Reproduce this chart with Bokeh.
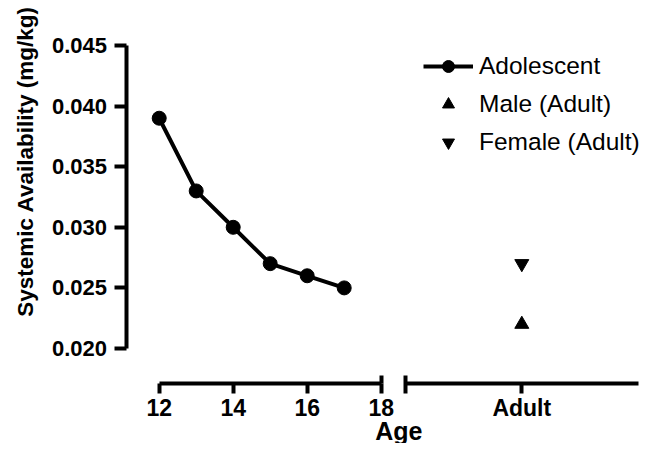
import math
from bokeh.plotting import figure
from bokeh.models import (Range1d, LinearAxis, FixedTicker, NumeralTickFormatter,
                          Label, Legend)
from bokeh.embed import file_html
from bokeh.resources import INLINE

# ---- data -------------------------------------------------------------
ages = [12, 13, 14, 15, 16, 17]
adolescent = [0.039, 0.033, 0.030, 0.027, 0.026, 0.025]
male_adult = [0.022]
female_adult = [0.027]
age_ticks = [12, 14, 16, 18]
adult_label = "Adult"
y_ticks = [0.020, 0.025, 0.030, 0.035, 0.040, 0.045]
series_names = ["Adolescent", "Male (Adult)", "Female (Adult)"]
x_title = "Age"
y_title = "Systemic Availability (mg/kg)"

# ---- layout constants ---------------------------------------------------
W, H = 641, 443
ADULT_POS = 21.8          # where the "Adult" group sits on the broken axis
SEG1 = (12, 18)           # first axis segment
SEG2 = (18.65, 24.95)     # second axis segment
Y_BOUNDS = (0.020, 0.045)
FONT = "Liberation Sans"

# pixel <-> data mapping of the plotting area (whole canvas is the frame)
PX_PER_X = 37.0
X12_PX = 158.7
PX_PER_Y = 303 / 0.025
Y045_PX = 45.0


def dx(px):
    return 12 + (px - X12_PX) / PX_PER_X


def dy(py):
    return 0.045 + (Y045_PX - py) / PX_PER_Y


X_AXIS_AT = dy(383)       # data y where the (offset) x axis is drawn
Y_AXIS_AT = dx(125.5)     # data x where the y axis is drawn

p = figure(width=W, height=H,
           x_range=Range1d(dx(0), dx(W)), y_range=Range1d(dy(H), dy(0)),
           output_backend="svg", toolbar_location=None,
           min_border_left=0, min_border_top=0,
           min_border_right=0, min_border_bottom=0)
p.grid.visible = False
p.outline_line_color = None
p.background_fill_color = "white"
p.border_fill_color = "white"

# ---- primary x axis: ticks + labels (no rule) ----------------------------
xa = p.xaxis[0]
xa.fixed_location = X_AXIS_AT
xa.bounds = (SEG1[0], SEG2[1])
xa.ticker = FixedTicker(ticks=age_ticks + [ADULT_POS])
xa.major_label_overrides = {ADULT_POS: adult_label}
xa.axis_line_color = None
xa.major_tick_in = 0
xa.major_tick_out = 10
xa.major_tick_line_width = 4
xa.major_tick_line_color = "black"
xa.minor_tick_line_color = None
xa.major_label_standoff = 1
xa.major_label_text_font = FONT
xa.major_label_text_font_style = "bold"
xa.major_label_text_font_size = "23px"
xa.major_label_text_color = "black"

# ---- axis segments (rules with end caps) ---------------------------------
for bnds, cap, out in [(SEG1, SEG1[1], 0), (SEG2, SEG2[0], 10)]:
    seg = LinearAxis(fixed_location=X_AXIS_AT, bounds=bnds,
                     ticker=FixedTicker(ticks=[cap]),
                     major_label_overrides={cap: ""},
                     axis_line_width=4, axis_line_color="black",
                     major_tick_in=8, major_tick_out=out,
                     major_tick_line_width=4, major_tick_line_color="black",
                     minor_tick_line_color=None,
                     major_label_text_font_size="0px")
    p.add_layout(seg, "below")

# ---- y axis --------------------------------------------------------------
ya = p.yaxis[0]
ya.fixed_location = Y_AXIS_AT
ya.bounds = Y_BOUNDS
ya.ticker = FixedTicker(ticks=y_ticks)
ya.formatter = NumeralTickFormatter(format="0.000")
ya.axis_line_width = 4
ya.axis_line_color = "black"
ya.major_tick_in = 0
ya.major_tick_out = 12
ya.major_tick_line_width = 4
ya.major_tick_line_color = "black"
ya.minor_tick_line_color = None
ya.major_label_standoff = 7
ya.major_label_text_font = FONT
ya.major_label_text_font_style = "bold"
ya.major_label_text_font_size = "22px"
ya.major_label_text_color = "black"

# ---- data glyphs ----------------------------------------------------------
r_line = p.line(ages, adolescent, line_width=4, line_color="black")
r_pts = p.scatter(ages, adolescent, size=14, color="black")
r_m = p.scatter([ADULT_POS] * len(male_adult), male_adult, marker="triangle",
                size=14, color="black")
r_f = p.scatter([ADULT_POS] * len(female_adult), female_adult,
                marker="inverted_triangle", size=14, color="black")

legend = Legend(items=[(series_names[0], [r_line, r_pts]),
                       (series_names[1], [r_m]),
                       (series_names[2], [r_f])],
                location=(423, 286),
                label_text_font=FONT, label_text_font_size="24.5px",
                label_text_color="black",
                glyph_width=50, glyph_height=30, label_height=30,
                label_standoff=6, spacing=8, padding=0, margin=0,
                border_line_color=None, background_fill_alpha=0)
p.add_layout(legend)

# ---- axis titles ----------------------------------------------------------
p.add_layout(Label(x=dx(25), y=dy(161), text=y_title, angle=math.pi / 2,
                   text_align="center", text_baseline="middle",
                   text_font=FONT, text_font_style="bold",
                   text_font_size="22.5px", text_color="black"))
p.add_layout(Label(x=(SEG1[0] + SEG2[1]) / 2, y=dy(430), text=x_title,
                   text_align="center", text_baseline="middle",
                   text_font=FONT, text_font_style="bold",
                   text_font_size="25px", text_color="black"))

open("out.html", "w").write(file_html(p, INLINE))
